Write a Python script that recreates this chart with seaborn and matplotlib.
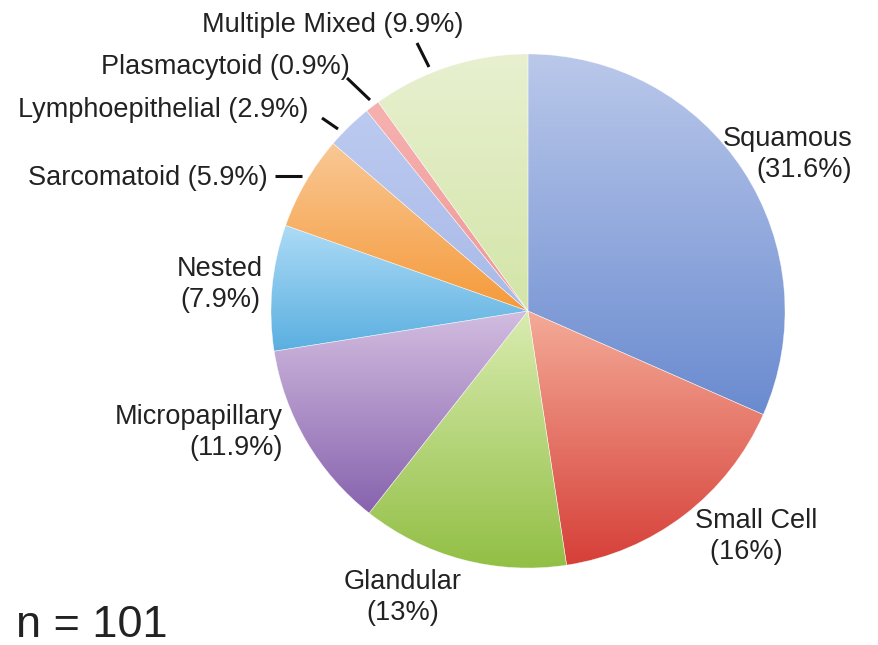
import numpy as np
import matplotlib
matplotlib.use("Agg")
import matplotlib.pyplot as plt
import seaborn as sns

# Histologic subtype distribution
subtypes = ["Squamous", "Small Cell", "Glandular", "Micropapillary", "Nested",
            "Sarcomatoid", "Lymphoepithelial", "Plasmacytoid", "Multiple Mixed"]
percents = [31.6, 16, 13, 11.9, 7.9, 5.9, 2.9, 0.9, 9.9]
pct_labels = ["31.6%", "16%", "13%", "11.9%", "7.9%", "5.9%", "2.9%", "0.9%", "9.9%"]
n_cases = 101

# top (light) and bottom (dark) shade of each slice's vertical gradient
light_colors = ["#bac8ea", "#f4ab98", "#d9ecb0", "#d3bde0", "#addbf6",
                "#f9c895", "#bccaf0", "#f6b2b0", "#e8f0d0"]
dark_colors = ["#6a8bd0", "#d63f38", "#92bf45", "#8763ae", "#5aafe0",
               "#f59a3a", "#a9bae8", "#ee9896", "#d3e5a8"]

sns.set_theme(style="white")
plt.rcParams["font.family"] = ["Liberation Sans", "DejaVu Sans"]

W, H = 879, 645
fig = plt.figure(figsize=(W / 100, H / 100), dpi=100)
ax = fig.add_axes([0, 0, 1, 1])

# pie geometry in pixel units
CX, CY, R = 528, 311, 257


def px(x, y):
    return ((x - CX) / R, (CY - y) / R)


wedges, _ = ax.pie(percents, startangle=90, counterclock=False, radius=1,
                   center=(0, 0),
                   wedgeprops=dict(facecolor="none", edgecolor=(1, 1, 1, 0.6),
                                   linewidth=0.4, zorder=3))

for w, c0, c1 in zip(wedges, light_colors, dark_colors):
    th = np.radians(np.linspace(w.theta1, w.theta2, 200))
    xs = np.concatenate([[w.center[0]], w.center[0] + w.r * np.cos(th)])
    ys = np.concatenate([[w.center[1]], w.center[1] + w.r * np.sin(th)])
    cmap = sns.blend_palette([c0, c1], as_cmap=True)
    grad = np.linspace(0, 1, 256).reshape(-1, 1)
    im = ax.imshow(grad, cmap=cmap, aspect="auto", origin="upper",
                   extent=(xs.min(), xs.max(), ys.min(), ys.max()),
                   interpolation="bilinear", zorder=2)
    im.set_clip_path(w)

ax.set_xlim(-CX / R, (W - CX) / R)
ax.set_ylim(-(H - CY) / R, CY / R)
ax.set_aspect("equal")
ax.axis("off")

fs = 19.5
tc = "#222222"
lbl = {name: f"{name} ({p})" for name, p in zip(subtypes, pct_labels)}
lbl2 = {name: f"{name}\n({p})" for name, p in zip(subtypes, pct_labels)}

ax.text(*px(463, 25), lbl["Multiple Mixed"], ha="right", va="center", fontsize=fs, color=tc)
ax.text(*px(350, 67), lbl["Plasmacytoid"], ha="right", va="center", fontsize=fs, color=tc)
ax.text(*px(308, 110), lbl["Lymphoepithelial"], ha="right", va="center", fontsize=fs, color=tc)
ax.text(*px(268, 178), lbl["Sarcomatoid"], ha="right", va="center", fontsize=fs, color=tc)
ax.text(*px(220, 285), lbl2["Nested"], ha="center", va="center", multialignment="center",
        fontsize=fs, color=tc, linespacing=1.25)
ax.text(*px(283, 433), lbl2["Micropapillary"], ha="right", va="center", multialignment="right",
        fontsize=fs, color=tc, linespacing=1.25)
ax.text(*px(403, 598), lbl2["Glandular"], ha="center", va="center", multialignment="center",
        fontsize=fs, color=tc, linespacing=1.25)
ax.text(*px(695, 537), "Small Cell\n  (16%)", ha="left", va="center", multialignment="left",
        fontsize=fs, color=tc, linespacing=1.25)
ax.text(*px(852, 155), lbl2["Squamous"], ha="right", va="center", multialignment="right",
        fontsize=fs, color=tc, linespacing=1.25)

# leader lines for the small slices
leaders = [((417, 43), (429, 67)), ((347, 78), (370, 100)),
           ((322, 118), (338, 129)), ((275, 176), (302, 176))]
for (x0, y0), (x1, y1) in leaders:
    p0, p1 = px(x0, y0), px(x1, y1)
    ax.plot([p0[0], p1[0]], [p0[1], p1[1]], color="#111111", lw=2.2,
            solid_capstyle="butt", zorder=4)

ax.text(*px(16, 637), f"n = {n_cases}", ha="left", va="baseline", fontsize=32.5, color=tc)

fig.savefig("out.png", dpi=100)
